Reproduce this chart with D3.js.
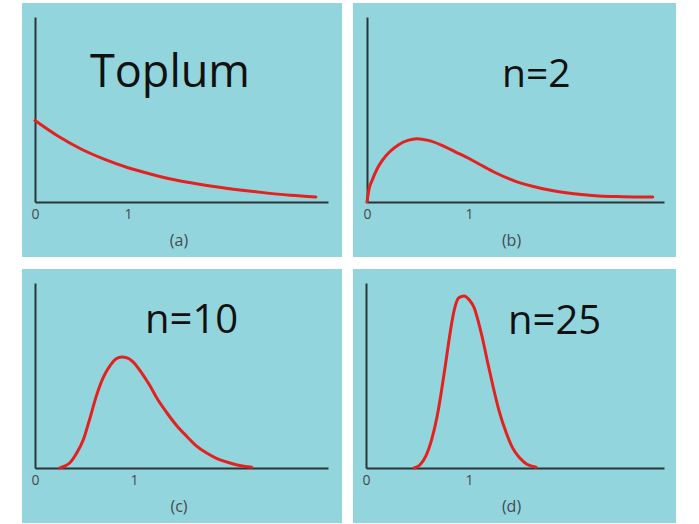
<!DOCTYPE html>
<html lang="en">
<head>
    <meta charset="UTF-8">
    <title>sampling distribution</title>
    <script src="https://d3js.org/d3.v7.min.js"></script>
    <style>
        body { margin: 0; background: #fff; }
        text { font-family: "Open Sans", sans-serif; }
    </style>
</head>
<body>
<svg class="chart"></svg>

<script type="text/javascript">

    const width = 699;
    const height = 524;

    // panel names / captions
    const titles = ["Toplum", "n=2", "n=10", "n=25"];
    const captions = ["(a)", "(b)", "(c)", "(d)"];
    const tickValues = [0, 1];
    const xMax = [3.15, 2.91, 2.96, 2.89];

    // curves (x in axis units, y as share of axis height)
    const xsA = [0, 0.25, 0.5, 0.75, 1, 1.25, 1.5, 1.75, 2, 2.25, 2.5, 2.75, 3.02];
    const ysA = [0.44, 0.355, 0.285, 0.23, 0.185, 0.15, 0.12, 0.097, 0.078, 0.062, 0.048, 0.036, 0.027];

    const xsB = [0, 0.02, 0.05, 0.1, 0.15, 0.22, 0.31, 0.4, 0.49, 0.6, 0.74, 0.87, 1.0, 1.15, 1.29, 1.45, 1.62, 1.8, 1.95, 2.1, 2.27, 2.5, 2.8];
    const ysB = [0, 0.07, 0.117, 0.18, 0.225, 0.27, 0.31, 0.333, 0.342, 0.333, 0.305, 0.27, 0.235, 0.19, 0.15, 0.113, 0.085, 0.063, 0.05, 0.04, 0.033, 0.029, 0.027];

    const xsC = [0.25, 0.3, 0.35, 0.42, 0.49, 0.55, 0.62, 0.69, 0.76, 0.82, 0.876, 0.93, 0.99, 1.07, 1.16, 1.24, 1.33, 1.43, 1.53, 1.63, 1.73, 1.85, 1.97, 2.08, 2.19];
    const ysC = [0, 0.01, 0.027, 0.08, 0.155, 0.26, 0.39, 0.49, 0.555, 0.59, 0.6, 0.595, 0.574, 0.52, 0.446, 0.37, 0.3, 0.23, 0.173, 0.12, 0.082, 0.048, 0.027, 0.012, 0.004];

    const xsD = [0.466, 0.52, 0.58, 0.64, 0.69, 0.73, 0.77, 0.81, 0.854, 0.9, 0.95, 1.0, 1.05, 1.09, 1.13, 1.18, 1.23, 1.29, 1.36, 1.42, 1.49, 1.56, 1.65];
    const ysD = [0, 0.015, 0.064, 0.16, 0.28, 0.41, 0.556, 0.71, 0.85, 0.92, 0.93, 0.91, 0.865, 0.79, 0.7, 0.57, 0.446, 0.31, 0.19, 0.11, 0.055, 0.02, 0.004];

    const curves = [[xsA, ysA], [xsB, ysB], [xsC, ysC], [xsD, ysD]];

    // panel boxes and title spots
    const panels = [
        {x: 22, y: 3, w: 320, h: 254, ox: 13, len: 293, tx: 68, ty: 84, fs: 45},
        {x: 353, y: 3, w: 323, h: 254, ox: 14, len: 297, tx: 149, ty: 84, fs: 39},
        {x: 22, y: 269, w: 320, h: 254, ox: 13, len: 293, tx: 123, ty: 64, fs: 40},
        {x: 353, y: 269, w: 323, h: 254, ox: 13, len: 298, tx: 155, ty: 65, fs: 40}
    ];

    const baseY = 199;
    const topY = 14;

    let svg = d3.select(".chart")
        .attr("width", width)
        .attr("height", height);

    panels.forEach(function (p, i) {
        let g = svg.append("g").attr("transform", "translate(" + p.x + "," + p.y + ")");

        g.append("rect")
            .attr("width", p.w)
            .attr("height", p.h)
            .attr("fill", "#93d5dd");

        let scaleX = d3.scaleLinear().domain([0, xMax[i]]).range([p.ox, p.ox + p.len]);
        let scaleY = d3.scaleLinear().domain([0, 1]).range([baseY, topY]);

        let xAxis = g.append("g")
            .attr("transform", "translate(0," + baseY + ")")
            .call(d3.axisBottom(scaleX).tickValues(tickValues).tickSize(0).tickPadding(7).tickFormat(d3.format("d")));
        xAxis.select(".domain").attr("stroke", "#2b3539").attr("stroke-width", 2);
        xAxis.selectAll("text")
            .attr("fill", "#424b50")
            .style("font-size", "14px")
            .style("font-family", "'Open Sans', sans-serif");

        let yAxis = g.append("g")
            .attr("transform", "translate(" + p.ox + ",0)")
            .call(d3.axisLeft(scaleY).tickValues([]).tickSize(0));
        yAxis.select(".domain").attr("stroke", "#2b3539").attr("stroke-width", 2);

        let pts = curves[i][0].map((x, k) => [x, curves[i][1][k]]);

        let line = d3.line()
            .x(d => scaleX(d[0]))
            .y(d => scaleY(d[1]))
            .curve(d3.curveMonotoneX);

        g.append("path")
            .datum(pts)
            .attr("d", line)
            .attr("fill", "none")
            .attr("stroke", "#e3221f")
            .attr("stroke-width", 3)
            .attr("stroke-linecap", "round");

        g.append("text")
            .attr("x", p.tx)
            .attr("y", p.ty)
            .attr("fill", "#111")
            .style("font-size", p.fs + "px")
            .text(titles[i]);

        g.append("text")
            .attr("x", p.w / 2 - 3)
            .attr("y", 243)
            .attr("text-anchor", "middle")
            .attr("fill", "#424b50")
            .style("font-size", "16px")
            .text(captions[i]);
    });

</script>
</body>
</html>
